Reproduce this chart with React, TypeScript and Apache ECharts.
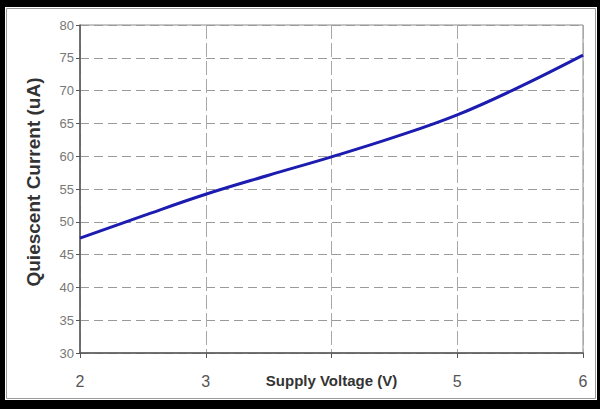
import React, { useEffect, useRef } from "react";
import * as echarts from "echarts";

const voltages = [2, 2.5, 3, 3.5, 4, 4.5, 5, 5.5, 6];
const currents = [47.5, 50.9, 54.2, 57.1, 59.9, 62.9, 66.3, 70.6, 75.4];
const xTickHidden = [4];
const yTitle = "Quiescent Current (uA)";
const xTitle = "Supply Voltage (V)";

export default function App() {
  const ref = useRef<HTMLDivElement>(null);
  useEffect(() => {
    if (!ref.current) return;
    const chart = echarts.init(ref.current, undefined, { renderer: "svg" });
    const font = "'Liberation Sans', Arial, sans-serif";
    chart.setOption({
      animation: false,
      backgroundColor: "#ffffff",
      graphic: [
        {
          type: "rect",
          shape: { x: 1.5, y: 1.5, width: 589, height: 390 },
          style: { fill: "none", stroke: "#9a9a9a", lineWidth: 1 },
          silent: true,
        },
      ],
      grid: {
        left: 75,
        top: 18,
        right: 14,
        bottom: 47,
        containLabel: false,
        outerBoundsMode: "none",
        show: true,
        borderColor: "#8a8a8a",
        borderWidth: 1,
      },
      xAxis: {
        type: "value",
        min: 2,
        max: 6,
        interval: 1,
        name: xTitle,
        nameLocation: "middle",
        nameGap: 20,
        nameMoveOverlap: false,
        nameTextStyle: {
          fontFamily: font,
          fontWeight: "bold",
          fontSize: 15,
          color: "#333",
        },
        axisLine: { show: true, onZero: false, lineStyle: { color: "#555", width: 1.5 } },
        axisTick: { show: true, inside: false, length: 5, lineStyle: { color: "#555" } },
        axisLabel: {
          margin: 20,
          fontFamily: font,
          fontSize: 16,
          color: "#555",
          formatter: (v: number) => (xTickHidden.includes(v) ? "" : String(v)),
        },
        splitLine: {
          show: true,
          lineStyle: { color: "#a8a8a8", type: [14, 4], width: 1 },
        },
      },
      yAxis: {
        type: "value",
        min: 30,
        max: 80,
        interval: 5,
        name: yTitle,
        nameLocation: "middle",
        nameGap: 37,
        nameRotate: 90,
        nameMoveOverlap: false,
        nameTextStyle: {
          fontFamily: font,
          fontWeight: "bold",
          fontSize: 19,
          color: "#333",
          padding: [0, 0, 0, 14],
        },
        axisLine: { show: true, lineStyle: { color: "#555", width: 1.5 } },
        axisTick: { show: true, inside: false, length: 4, lineStyle: { color: "#555" } },
        axisLabel: {
          margin: 6,
          fontFamily: font,
          fontSize: 13,
          color: "#777",
        },
        splitLine: {
          show: true,
          lineStyle: { color: "#9a9a9a", type: [9, 5], width: 1.2 },
        },
      },
      series: [
        {
          type: "line",
          data: voltages.map((v, i) => [v, currents[i]]),
          smooth: 0.4,
          showSymbol: false,
          symbol: "none",
          lineStyle: { color: "#1c1cb0", width: 3 },
        },
      ],
    });
    return () => chart.dispose();
  }, []);
  return (
    <div
      style={{
        position: "fixed",
        left: 0,
        top: 0,
        width: 600,
        height: 409,
        background: "#000",
      }}
    >
      <div
        ref={ref}
        style={{ position: "absolute", left: 5, top: 7, width: 592, height: 393 }}
      />
    </div>
  );
}
